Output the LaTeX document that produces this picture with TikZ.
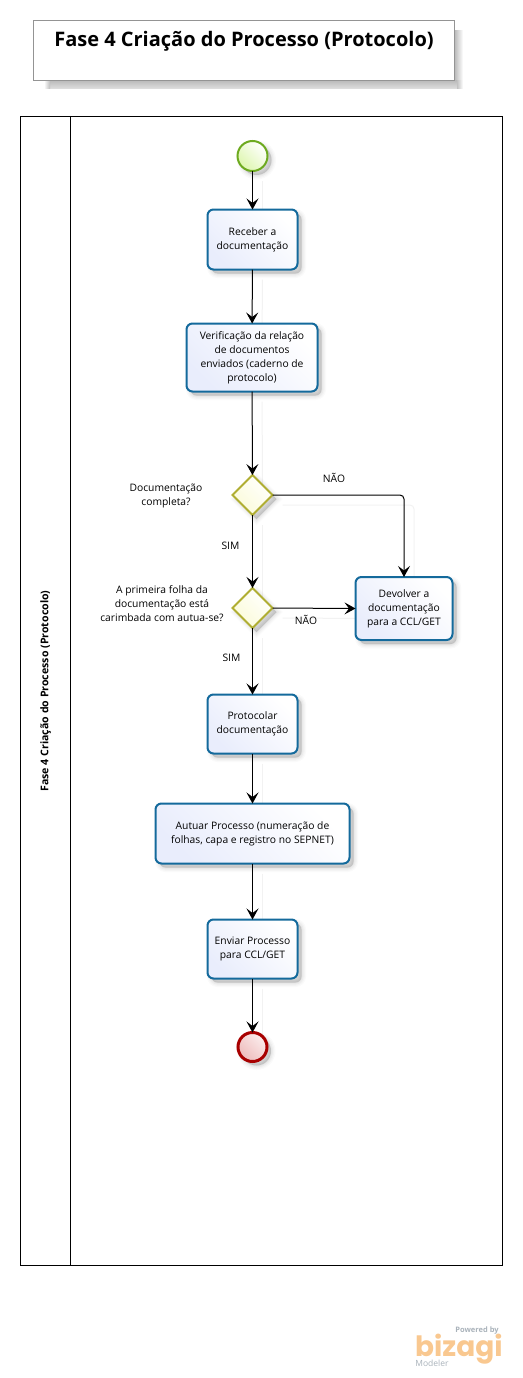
\documentclass[tikz,border=0pt]{standalone}
\usepackage{fontspec}
\setmainfont{Open Sans}
\newfontfamily\logofont{Poppins}[Scale=1]
\usetikzlibrary{arrows.meta,shapes.geometric,calc}
\pgfdeclarelayer{background}
\pgfsetlayers{background,main}
\definecolor{taskline}{HTML}{146A9C}
\definecolor{taskfill}{HTML}{E9EDFC}
\definecolor{gateline}{HTML}{B0AE32}
\definecolor{gatefill}{HTML}{FBFBD8}
\definecolor{startline}{HTML}{6DAA1F}
\definecolor{startfill}{HTML}{DDF6AE}
\definecolor{endline}{HTML}{A80000}
\definecolor{endfill}{HTML}{EEBBBB}
\definecolor{logoorange}{HTML}{F9C890}
\definecolor{logogray}{HTML}{A9B2BA}
\tikzset{
  softshadow/.style={
    preaction={draw=black,fill=black,opacity=.02,line width=9pt,transform canvas={shift={(#1,-#1)}}},
    preaction={draw=black,fill=black,opacity=.025,line width=6.5pt,transform canvas={shift={(#1,-#1)}}},
    preaction={draw=black,fill=black,opacity=.03,line width=4pt,transform canvas={shift={(#1,-#1)}}},
    preaction={draw=black,fill=black,opacity=.035,line width=1.5pt,transform canvas={shift={(#1,-#1)}}},
    preaction={fill=black,opacity=.05,transform canvas={shift={(#1,-#1)}}}},
  taskbox/.style={softshadow=4pt,draw=taskline,line width=2pt,rounded corners=6pt,
    left color=white,right color=taskfill,shading angle=-45,
    align=center,font=\fontsize{10.3}{14}\selectfont,inner sep=0pt,outer sep=0pt},
  gate/.style={softshadow=4pt,shape=diamond,draw=gateline,line width=2pt,left color=white,right color=gatefill,
    shading angle=-45,minimum width=40pt,minimum height=40pt,inner sep=0pt,outer sep=0pt},
  startev/.style={softshadow=4pt,shape=circle,draw=startline,line width=2pt,left color=white,right color=startfill,
    shading angle=-45,minimum size=30pt,inner sep=0pt,outer sep=0pt},
  endev/.style={softshadow=4pt,shape=circle,draw=endline,line width=3pt,left color=endfill!25,right color=endfill,
    shading angle=-45,minimum size=29pt,inner sep=0pt,outer sep=0pt},
  flow/.style={draw=black,line width=1pt,-{Stealth[length=11pt,width=12pt,inset=4.5pt]}},
  ghost/.style={draw=black!5,line width=1pt,transform canvas={shift={(10pt,-10pt)}}},
  lbl/.style={align=center,font=\fontsize{10.3}{14}\selectfont,inner sep=0pt},
  pool/.style={draw=black,line width=.9pt},
}
\begin{document}
\begin{tikzpicture}[x=1pt,y=-1pt]
\useasboundingbox (0,0) rectangle (522,1378);
% title
\shade[left color=black!26,right color=white] (455,31) rectangle (463,81);
\shade[top color=black!26,bottom color=black!12] (50,81) rectangle (457,89);
\shade[left color=white,right color=black!26] (44,81) rectangle (50,89);
\shade[left color=black!24,right color=white] (457,81) rectangle (463,89);
\node[draw=black!42,line width=.9pt,fill=white,minimum width=421pt,minimum height=60pt,inner sep=0pt,outer sep=0pt] (title) at (243.5,50.5) {};
\node[font=\fontsize{20}{24}\bfseries\selectfont,inner sep=0pt] (titletext) at (244,41) {Fase 4 Criação do Processo (Protocolo)};
% pool
\node[pool,minimum width=482pt,minimum height=1149pt,inner sep=0pt,outer sep=0pt] (poolbox) at (261,690.5) {};
\coordinate (lanetop) at (70.5,116);
\coordinate (lanebot) at (70.5,1265);
\draw[pool] (lanetop) -- (lanebot);
\node[rotate=90,font=\fontsize{10.6}{12}\bfseries\selectfont,inner sep=0pt] (lanelabel) at (45.5,691) {Fase 4 Criação do Processo (Protocolo)};
% nodes
\node[startev] (start) at (252.5,156) {};
\node[taskbox,minimum width=90pt,minimum height=60pt] (receber) at (252.5,239.5) {Receber a\\documentação};
\node[taskbox,minimum width=131pt,minimum height=68pt] (verif) at (252,357.5) {Verificação da relação\\de documentos\\enviados (caderno de\\protocolo)};
\node[gate] (d1) at (252.5,495) {};
\node[gate] (d2) at (252.5,608) {};
\node[taskbox,minimum width=97pt,minimum height=63pt] (devolver) at (404,608.5) {Devolver a\\documentação\\para a CCL/GET};
\node[taskbox,minimum width=90pt,minimum height=59pt] (protocolar) at (252.5,724) {Protocolar\\documentação};
\node[taskbox,minimum width=194pt,minimum height=60pt] (autuar) at (252.5,833.5) {Autuar Processo (numeração de\\folhas, capa e registro no SEPNET)};
\node[taskbox,minimum width=90pt,minimum height=59pt] (enviar) at (252.5,949) {Enviar Processo\\para CCL/GET};
\node[endev] (end) at (252.5,1047) {};
% labels
\node[lbl] (q1) at (166,495.5) {Documentação\\completa?};
\node[lbl] (q2) at (162,604) {A primeira folha da\\documentação está\\carimbada com autua-se?};
\node[lbl] (sim1) at (230.5,546) {SIM};
\node[lbl] (sim2) at (231.5,658) {SIM};
\node[lbl] (nao1) at (334,478) {NÃO};
\node[lbl] (nao2) at (306,620) {NÃO};
% connector shadows
\begin{pgfonlayer}{background}
\draw[ghost] (start) -- (receber);
\draw[ghost] (receber) -- (verif);
\draw[ghost] (verif) -- (d1);
\draw[ghost] (d1) -- (d2);
\draw[ghost,rounded corners=4pt] (d1.east) -| (devolver.north);
\draw[ghost] (d2.east) -- (devolver.west);
\draw[ghost] (d2) -- (protocolar);
\draw[ghost] (protocolar) -- (autuar);
\draw[ghost] (autuar) -- (enviar);
\draw[ghost] (enviar) -- (end);
\end{pgfonlayer}
% connectors
\draw[flow] (start) -- (receber);
\draw[flow] (receber) -- (verif);
\draw[flow] (verif) -- (d1);
\draw[flow] (d1) -- (d2);
\draw[flow,rounded corners=4pt] (d1.east) -| (devolver.north);
\draw[flow] (d2.east) -- (devolver.west);
\draw[flow] (d2) -- (protocolar);
\draw[flow] (protocolar) -- (autuar);
\draw[flow] (autuar) -- (enviar);
\draw[flow] (enviar) -- (end);
% logo
\node[font=\fontsize{7.5}{9}\bfseries\selectfont,text=logogray,inner sep=0pt] (powered) at (477,1330.5) {Powered by};
\node[font=\logofont\bfseries\fontsize{28}{28}\selectfont,text=logoorange,inner sep=0pt,anchor=base west,text depth=0pt,text height=20pt] (bizagi) at (415,1356) {bizagi};
\node[font=\fontsize{8.5}{10}\selectfont,text=logogray,inner sep=0pt] (modeler) at (432,1363) {Modeler};
\end{tikzpicture}
\end{document}
